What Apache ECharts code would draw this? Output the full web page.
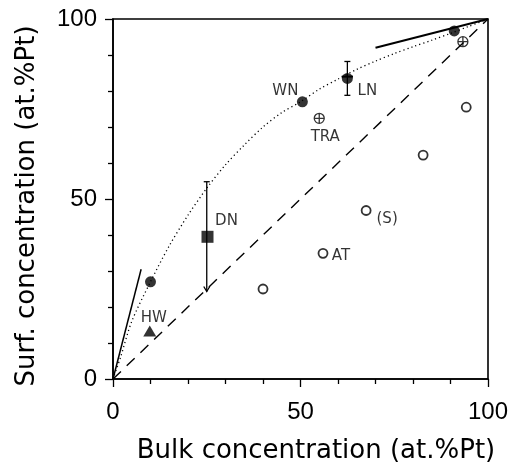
<!DOCTYPE html>
<html>
<head>
<meta charset="utf-8">
<script src="https://cdn.jsdelivr.net/npm/echarts@6/dist/echarts.min.js"></script>
<style>html,body{margin:0;padding:0;background:#fff}#c{width:514px;height:465px}</style>
</head>
<body>
<div id="c"></div>
<script>
// ---- data ----
const xTickValues = [0, 50, 100];
const yTickValues = [0, 50, 100];
const xTitle = 'Bulk concentration (at.%Pt)';
const yTitle = 'Surf. concentration (at.%Pt)';

// dotted segregation curve
const curveX = [0, 2, 5, 10, 15, 20, 25, 30, 35, 40, 45, 50, 55, 60, 65, 70, 75, 80, 85, 90, 95, 100];
const curveY = [0, 6, 16, 27, 37, 45.5, 53, 59.5, 65, 70, 74, 77, 80.5, 83.3, 86, 88.3, 90.4, 92.3, 94.1, 96, 98, 100];

const diagonalX = [0, 100];
const diagonalY = [0, 100];
const lowSlopeX = [0, 7.5];
const lowSlopeY = [0, 30.5];
const highSlopeX = [70, 100];
const highSlopeY = [92, 100];

const filledX = [10, 50.5, 62.5, 91];
const filledY = [27, 77, 83.5, 96.7];
const filledNames = ['', 'WN', 'LN', ''];

const crossX = [93.3, 55];
const crossY = [93.7, 72.4];
const crossNames = ['', 'TRA'];

const openX = [94.2, 82.7, 67.5, 56, 40];
const openY = [75.5, 62.2, 46.8, 34.9, 25];
const openNames = ['', '', '(S)', 'AT', ''];

const squareX = [25.2];
const squareY = [39.5];
const squareNames = ['DN'];

const triangleX = [9.8];
const triangleY = [13.3];
const triangleNames = ['HW'];

// error bars: [x, low, high]
const lnErr = [62.5, 78.8, 88.2];
const lnErrX = [61, 64];
const dnErr = [25, 24.3, 54.8];

// ---- styles (not data) ----
const labelOffsets = {
  'WN': [-17, -11], 'LN': [20, 13], 'TRA': [6, 19], 'DN': [19, -16],
  '(S)': [21, 9], 'AT': [18, 3], 'HW': [4, -13]
};
const tickFont = '"Liberation Sans",sans-serif';
const textFont = '"DejaVu Sans",sans-serif';

function pts(xs, ys, names) {
  return xs.map((x, i) => {
    const d = { value: [x, ys[i]] };
    const n = names ? names[i] : '';
    if (n) {
      d.name = n;
      d.label = { show: true, formatter: n, position: 'inside', offset: labelOffsets[n],
        color: '#000', fontSize: 15, fontFamily: textFont };
    }
    return d;
  });
}
function line(xs, ys) { return xs.map((x, i) => [x, ys[i]]); }

const axisCommon = {
  type: 'value', min: 0, max: 100, interval: 50,
  axisLine: { show: true, lineStyle: { color: '#000', width: 1.6 } },
  axisTick: { show: true, inside: false, length: 8, lineStyle: { color: '#000', width: 1.3 } },
  minorTick: { show: true, splitNumber: 5, length: 5, lineStyle: { color: '#000', width: 1.3 } },
  splitLine: { show: false },
  minorSplitLine: { show: false }
};

const chart = echarts.init(document.getElementById('c'), null, { renderer: 'canvas' });
chart.setOption({
  backgroundColor: '#fff',
  animation: false,
  grid: { left: 113, right: 26, top: 19, bottom: 86, show: true, borderColor: '#000', borderWidth: 1.6, backgroundColor: 'transparent' },
  xAxis: Object.assign({}, axisCommon, {
    axisLabel: { color: '#000', fontSize: 24, fontFamily: tickFont, margin: 21,
      formatter: v => (xTickValues.indexOf(v) >= 0 ? String(v) : '') }
  }),
  yAxis: Object.assign({}, axisCommon, {
    axisLabel: { color: '#000', fontSize: 24, fontFamily: tickFont, margin: 16,
      formatter: v => (yTickValues.indexOf(v) >= 0 ? String(v) : '') }
  }),
  graphic: [
    { type: 'text', x: 316, y: 451, style: { text: xTitle, font: '26px ' + textFont, fill: '#000', textAlign: 'center', textVerticalAlign: 'middle' } },
    { type: 'text', x: 27, y: 206, rotation: Math.PI / 2, style: { text: yTitle, font: '26px ' + textFont, fill: '#000', textAlign: 'center', textVerticalAlign: 'middle' } }
  ],
  series: [
    { type: 'line', data: line(diagonalX, diagonalY), symbol: 'none', clip: false,
      lineStyle: { color: '#000', width: 1.4, type: [11, 8] } },
    { type: 'line', data: line(curveX, curveY), symbol: 'none', smooth: 0.3, clip: false,
      lineStyle: { color: '#000', width: 1.3, type: [1.2, 3] } },
    { type: 'line', data: line(lowSlopeX, lowSlopeY), symbol: 'none', clip: false,
      lineStyle: { color: '#000', width: 1.5 } },
    { type: 'line', data: line(highSlopeX, highSlopeY), symbol: 'none', clip: false,
      lineStyle: { color: '#000', width: 2 } },
    { type: 'custom', clip: false,
      data: [[lnErr[0], lnErr[1], lnErr[2], lnErrX[0], lnErrX[1], 0], [dnErr[0], dnErr[1], dnErr[2], dnErr[0], dnErr[0], 1]],
      renderItem: function (params, api) {
        const x = api.value(0);
        const lo = api.coord([x, api.value(1)]);
        const hi = api.coord([x, api.value(2)]);
        const kind = api.value(5);
        const st = { stroke: '#000', lineWidth: 1.3 };
        const ch = [
          { type: 'line', shape: { x1: lo[0], y1: lo[1], x2: hi[0], y2: hi[1] }, style: st },
          { type: 'line', shape: { x1: hi[0] - 3, y1: hi[1], x2: hi[0] + 3, y2: hi[1] }, style: st }
        ];
        if (kind === 0) {
          ch.push({ type: 'line', shape: { x1: lo[0] - 3, y1: lo[1], x2: lo[0] + 3, y2: lo[1] }, style: st });
          const c = api.coord([x, (api.value(1) + api.value(2)) / 2 + 0.5]);
          const a = api.coord([api.value(3), 0]);
          const b = api.coord([api.value(4), 0]);
          ch.push({ type: 'line', shape: { x1: a[0], y1: c[1], x2: b[0], y2: c[1] }, style: { stroke: '#000', lineWidth: 2 } });
        } else {
          ch.push({ type: 'polyline', shape: { points: [[lo[0] - 3, lo[1] - 5], [lo[0], lo[1]], [lo[0] + 3, lo[1] - 5]] }, style: { stroke: '#000', lineWidth: 1.3, fill: 'none' } });
        }
        return { type: 'group', children: ch };
      }
    },
    { type: 'scatter', data: pts(filledX, filledY, filledNames), symbol: 'circle', symbolSize: 11, clip: false,
      itemStyle: { color: '#000' } },
    { type: 'scatter', data: pts(crossX, crossY, crossNames), symbolSize: 10, clip: false,
      symbol: 'path://M-1,0A1,1,0,1,1,1,0A1,1,0,1,1,-1,0ZM-1,0L1,0M0,-1L0,1',
      itemStyle: { color: '#fff', borderColor: '#000', borderWidth: 1.3 } },
    { type: 'scatter', data: pts(openX, openY, openNames), symbol: 'circle', symbolSize: 9, clip: false,
      itemStyle: { color: '#fff', borderColor: '#000', borderWidth: 1.8 } },
    { type: 'scatter', data: pts(squareX, squareY, squareNames), symbol: 'rect', symbolSize: 12, clip: false,
      itemStyle: { color: '#000' } },
    { type: 'scatter', data: pts(triangleX, triangleY, triangleNames), symbol: 'triangle', symbolSize: [13, 11], clip: false,
      itemStyle: { color: '#000' } }
  ]
});
</script>
</body>
</html>
